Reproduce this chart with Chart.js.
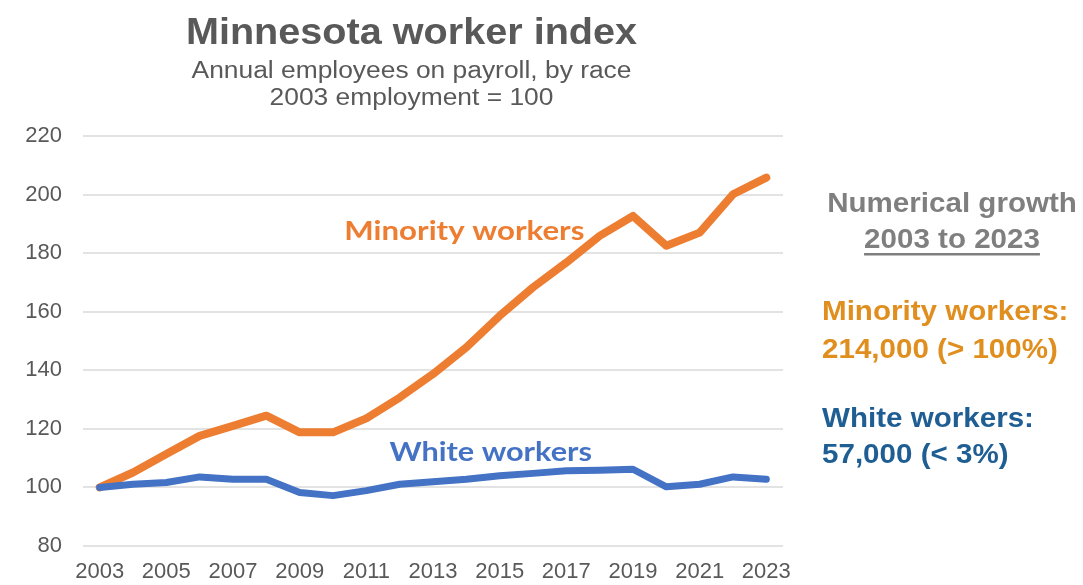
<!DOCTYPE html>
<html>
<head>
<meta charset="utf-8">
<script src="https://cdn.jsdelivr.net/npm/chart.js@4/dist/chart.umd.min.js"></script>
<style>
  html, body { margin: 0; padding: 0; background: #ffffff; }
  #wrap { position: relative; width: 1083px; height: 585px; }
  canvas { display: block; }
</style>
</head>
<body>
<div id="wrap"><canvas id="c" width="1083" height="585"></canvas></div>
<script>
const years = ['2003','2004','2005','2006','2007','2008','2009','2010','2011','2012','2013',
               '2014','2015','2016','2017','2018','2019','2020','2021','2022','2023'];
const minorityIndex = [100, 105.1, 111.4, 117.6, 121, 124.5, 118.8, 118.8, 123.6, 130.7, 138.7,
                       147.8, 158.6, 168.3, 176.8, 185.9, 192.7, 182.5, 187, 200.1, 205.8];
const whiteIndex = [100, 101.1, 101.7, 103.6, 102.8, 102.8, 98.3, 97.2, 98.9, 101.1, 101.9,
                    102.8, 104, 104.8, 105.7, 105.9, 106.2, 100.2, 101.1, 103.6, 102.8];
const yTicks = [80, 100, 120, 140, 160, 180, 200, 220];

const titleText = 'Minnesota worker index';
const subtitleLines = ['Annual employees on payroll, by race', '2003 employment = 100'];
const seriesLabels = ['Minority workers', 'White workers'];
const panelHeading = ['Numerical growth', '2003 to 2023'];
const panelMinority = ['Minority workers:', '214,000 (> 100%)'];
const panelWhite = ['White workers:', '57,000 (< 3%)'];

function stretchText(ctx, text, x, y, sx, align) {
  ctx.save();
  ctx.translate(x, y);
  ctx.scale(sx, 1);
  ctx.textAlign = align;
  ctx.fillText(text, 0, 0);
  const w = ctx.measureText(text).width * sx;
  ctx.restore();
  return w;
}

const textPlugin = {
  id: 'texts',
  afterDraw(chart) {
    const ctx = chart.ctx;
    const x = chart.scales.x, y = chart.scales.y;
    ctx.save();
    ctx.textBaseline = 'alphabetic';
    // Title
    ctx.fillStyle = '#595959';
    ctx.font = 'bold 36px "Liberation Sans", Arial, sans-serif';
    stretchText(ctx, titleText, 411.5, 44, 1.1, 'center');
    ctx.font = '23px "Liberation Sans", Arial, sans-serif';
    stretchText(ctx, subtitleLines[0], 411.5, 78, 1.147, 'center');
    stretchText(ctx, subtitleLines[1], 411.5, 105, 1.147, 'center');
    // In-chart series labels
    ctx.textBaseline = 'middle';
    ctx.font = 'bold 26px Lato, "Open Sans", sans-serif';
    ctx.fillStyle = '#ED7D31';
    stretchText(ctx, seriesLabels[0], x.getPixelForValue(11) - 2, y.getPixelForValue(187.5), 1.2, 'center');
    ctx.fillStyle = '#4472C4';
    stretchText(ctx, seriesLabels[1], x.getPixelForValue(12) - 9, y.getPixelForValue(112), 1.18, 'center');
    // Right panel
    ctx.textBaseline = 'alphabetic';
    ctx.font = 'bold 27px "Liberation Sans", Arial, sans-serif';
    ctx.fillStyle = '#7F7F7F';
    stretchText(ctx, panelHeading[0], 952, 212, 1.095, 'center');
    const w = stretchText(ctx, panelHeading[1], 952, 248, 1.095, 'center');
    ctx.fillRect(952 - w / 2, 253, w, 2.5);
    ctx.fillStyle = '#E08E1E';
    stretchText(ctx, panelMinority[0], 822, 320, 1.095, 'left');
    stretchText(ctx, panelMinority[1], 822, 358, 1.095, 'left');
    ctx.fillStyle = '#1F5E93';
    stretchText(ctx, panelWhite[0], 822, 427, 1.095, 'left');
    stretchText(ctx, panelWhite[1], 822, 463, 1.095, 'left');
    ctx.restore();
  }
};

new Chart(document.getElementById('c'), {
  type: 'line',
  data: {
    labels: years,
    datasets: [
      { label: seriesLabels[1], data: whiteIndex, borderColor: '#4472C4', borderWidth: 7,
        pointRadius: 0, tension: 0, borderCapStyle: 'round', borderJoinStyle: 'round' },
      { label: seriesLabels[0], data: minorityIndex, borderColor: '#ED7D31', borderWidth: 8,
        pointRadius: 0, tension: 0, borderCapStyle: 'round', borderJoinStyle: 'round' }
    ]
  },
  options: {
    responsive: false,
    animation: false,
    layout: { padding: { top: 136, right: 300, bottom: 0, left: 0 } },
    plugins: { legend: { display: false }, tooltip: { enabled: false }, title: { display: false } },
    scales: {
      x: {
        offset: true,
        grid: { display: false, drawTicks: false },
        border: { display: false },
        ticks: {
          color: '#595959', font: { size: 22, family: '"Liberation Sans", Arial, sans-serif' },
          maxRotation: 0, autoSkip: false, padding: 13,
          callback: function(v, i) { return i % 2 === 0 ? years[i] : ''; }
        },
        afterFit(s) { s.height = 39; }
      },
      y: {
        min: 80, max: 220,
        afterBuildTicks(s) { s.ticks = yTicks.map(v => ({ value: v })); },
        grid: { color: '#E3E3E3', lineWidth: 2, drawTicks: false },
        border: { display: false },
        ticks: { color: '#595959', font: { size: 22, family: '"Liberation Sans", Arial, sans-serif' }, padding: 21 },
        afterFit(s) { s.width = 83; }
      }
    }
  },
  plugins: [textPlugin]
});
</script>
</body>
</html>
